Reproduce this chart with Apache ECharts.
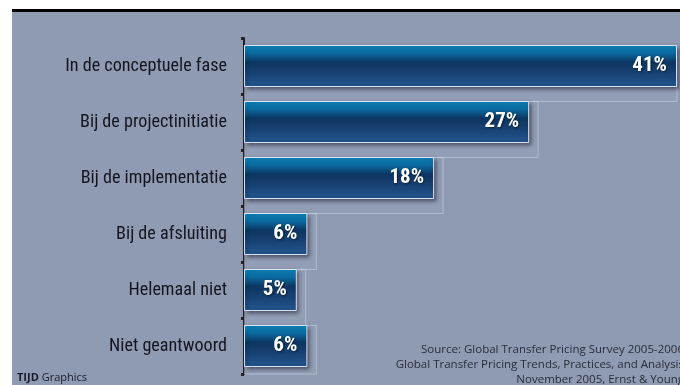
<!DOCTYPE html>
<html><head><meta charset="utf-8">
<script src="https://cdn.jsdelivr.net/npm/echarts@6/dist/echarts.min.js"></script>
<style>html,body{margin:0;padding:0;background:#fff}#c{width:680px;height:385px}</style>
</head><body><div id="c"></div>
<script>
const categories = ["In de conceptuele fase","Bij de projectinitiatie","Bij de implementatie","Bij de afsluiting","Helemaal niet","Niet geantwoord"];
const values = [41,27,18,6,5,6];
const sourceLines = ["Source: Global Transfer Pricing Survey 2005-2006","Global Transfer Pricing Trends, Practices, and Analysis","November 2005, Ernst & Young"];

const ctx = document.createElement('canvas').getContext('2d');
function w(font, t){ ctx.font = font; return ctx.measureText(t).width; }
// pick narrowest available family
const fams = ["DejaVu Sans Condensed","Liberation Sans Narrow","Roboto Condensed","Roboto","Inter","Lato"];
let fam = "Roboto", best = 1e9;
for (const f of fams) {
  const a = w("20px '"+f+"', monospace", categories[0]);
  const b = w("20px '"+f+"', serif", categories[0]);
  if (Math.abs(a-b) < 0.5 && a < best) { best = a; fam = f; }
}
const catSize = Math.min(24, 20 * 162 / w("20px '"+fam+"'", categories[0]));
const valSize = Math.min(21, 19 * 35 / w("bold 19px '"+fam+"'", "41%"));

const chart = echarts.init(document.getElementById('c'));
const barGrad = new echarts.graphic.LinearGradient(0,0,0,1,[
  {offset:0,color:'#0b88c2'},{offset:0.18,color:'#0a6da3'},
  {offset:0.42,color:'#0c3560'},{offset:0.62,color:'#163f70'},{offset:1,color:'#24568f'}]);
chart.setOption({
  animation:false,
  backgroundColor:'#ffffff',
  graphic:[
    {type:'rect',shape:{x:12,y:9,width:668,height:376},style:{fill:'#8f9bb3'},z:-10},
    {type:'rect',shape:{x:12,y:9,width:668,height:3},style:{fill:'#000'},z:-9},
    {type:'text',left:17,top:372,style:{text:'{b|TIJD} Graphics',fill:'#1a1a2a',font:"11px 'Open Sans',sans-serif",
      rich:{b:{fontWeight:'bold',fontSize:11,fontFamily:"'Open Sans',sans-serif",fill:'#1a1a2a'}}}},
    {type:'text',x:684,y:342,style:{text:sourceLines.join('\n'),align:'right',verticalAlign:'top',fill:'#2a2d3a',
      font:"11.5px 'Open Sans',sans-serif",lineHeight:15}}
  ],
  grid:{left:244,right:3,top:38,height:336},
  xAxis:{type:'value',min:0,max:41,show:false},
  yAxis:{type:'category',data:categories,inverse:true,
    axisLine:{show:true,lineStyle:{color:'#222',width:2}},
    axisTick:{show:true,length:3,lineStyle:{color:'#222',width:3}},
    axisLabel:{color:'#15151f',fontSize:catSize,fontFamily:fam,margin:17}},
  series:[
    {type:'bar',data:values.map(v=>v+0.9),barWidth:57,barGap:'-100%',silent:true,z:1,
      itemStyle:{color:'rgba(255,255,255,0.03)',borderColor:'rgba(220,225,240,0.45)',borderWidth:1}},
    {type:'bar',data:values,barWidth:42,z:3,
      itemStyle:{color:barGrad,borderColor:'rgba(235,240,250,0.9)',borderWidth:1,
        shadowColor:'rgba(0,0,20,0.45)',shadowBlur:4,shadowOffsetX:2,shadowOffsetY:2},
      label:{show:true,position:'insideRight',distance:10,formatter:'{c}%',color:'#fff',
        fontWeight:'bold',fontSize:valSize,fontFamily:fam,
        textShadowColor:'rgba(0,0,0,0.5)',textShadowBlur:2,textShadowOffsetX:1,textShadowOffsetY:1}}
  ]
});
</script></body></html>
